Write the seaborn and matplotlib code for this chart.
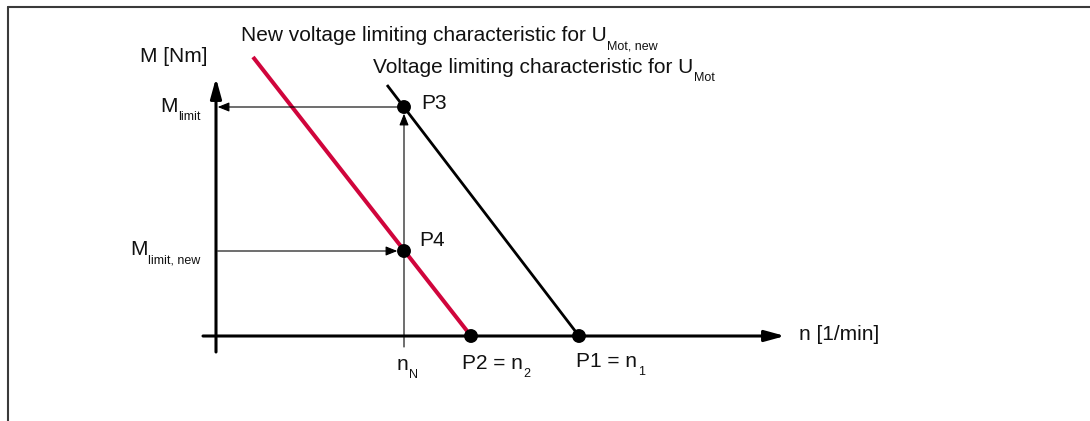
import pandas as pd
import seaborn as sns
import matplotlib.pyplot as plt
from matplotlib.lines import Line2D
from matplotlib.patches import ArrowStyle

# Operating points (arbitrary units, origin at the axis crossing)
n_N = 1.88
n_2 = 2.55
n_1 = 3.63
M_limit = 2.29
M_limit_new = 0.85

# Voltage limiting characteristics
new_char_n = [0.37, n_2]
new_char_M = [2.79, 0.0]
old_char_n = [1.71, n_1]
old_char_M = [2.51, 0.0]

# Marked points
point_names = ['P1', 'P2', 'P3', 'P4']
point_n = [n_1, n_2, n_N, n_N]
point_M = [0.0, 0.0, M_limit, M_limit_new]

# Axis extents
n_axis = [-0.13, 5.69]
M_axis = [-0.16, 2.58]

RED = '#d0053c'

sns.set_theme(style='white')
plt.rcParams['font.family'] = ['Liberation Sans', 'DejaVu Sans']

fig = plt.figure(figsize=(10.9, 4.21), dpi=100)
ax = fig.add_axes([0, 0, 1, 1])
ax.set_xlim(-2.16, 8.74)
ax.set_ylim(-0.85, 3.36)
ax.axis('off')

# frame (top and left only)
fig.add_artist(Line2D([7.5 / 1090, 1.0], [1 - 6.5 / 421] * 2, color='#3a3a3a', lw=1.5))
fig.add_artist(Line2D([7.5 / 1090] * 2, [0.0, 1 - 6.5 / 421], color='#3a3a3a', lw=1.5))

# axes with arrows
big_head = ArrowStyle('-|>', head_length=1.2, head_width=0.33)
ax.annotate('', xy=(n_axis[1], 0), xytext=(n_axis[0], 0),
            arrowprops=dict(arrowstyle=big_head, mutation_scale=10, lw=2.2, color='black',
                            shrinkA=0, shrinkB=0))
ax.annotate('', xy=(0, M_axis[1]), xytext=(0, M_axis[0]),
            arrowprops=dict(arrowstyle=big_head, mutation_scale=10, lw=2.2, color='black',
                            shrinkA=0, shrinkB=0))

# characteristics
old_df = pd.DataFrame({'n': old_char_n, 'M': old_char_M})
new_df = pd.DataFrame({'n': new_char_n, 'M': new_char_M})
sns.lineplot(data=old_df, x='n', y='M', color='black', lw=2.0, sort=False, ax=ax,
             solid_capstyle='butt', zorder=3)
sns.lineplot(data=new_df, x='n', y='M', color=RED, lw=2.9, sort=False, ax=ax,
             solid_capstyle='butt', zorder=3)
ax.axis('off')

# thin guide arrows
small_head = ArrowStyle('-|>', head_length=0.7, head_width=0.28)
ax.annotate('', xy=(n_N, M_limit), xytext=(n_N, -0.11),
            arrowprops=dict(arrowstyle=small_head, mutation_scale=10, lw=0.8, color='black',
                            shrinkA=0, shrinkB=4.8))
ax.annotate('', xy=(0, M_limit), xytext=(n_N, M_limit),
            arrowprops=dict(arrowstyle=small_head, mutation_scale=10, lw=0.8, color='black',
                            shrinkA=0, shrinkB=1.2))
ax.annotate('', xy=(n_N, M_limit_new), xytext=(0, M_limit_new),
            arrowprops=dict(arrowstyle=small_head, mutation_scale=10, lw=0.8, color='black',
                            shrinkA=1.2, shrinkB=4.8))

# points
pts = pd.DataFrame({'n': point_n, 'M': point_M, 'name': point_names})
sns.scatterplot(data=pts, x='n', y='M', color='black', s=100, edgecolor='none', zorder=5, ax=ax)
ax.axis('off')


def label(x, y, main, sub=None, fs=15, sub_fs=9):
    t = ax.text(x, y, main, fontsize=fs, ha='left', va='baseline', color='#111111')
    if sub:
        ax.annotate(sub, xy=(1, 0), xycoords=t, xytext=(0.5, -3.2), textcoords='offset points',
                    fontsize=sub_fs, ha='left', va='baseline', color='#111111')
    return t


label(0.25, 2.95, 'New voltage limiting characteristic for U', 'Mot, new')
label(1.57, 2.63, 'Voltage limiting characteristic for U', 'Mot')
label(-0.76, 2.74, 'M [Nm]')
label(-0.56, 2.24, 'M', 'limit')
label(-0.86, 0.81, 'M', 'limit, new')
label(1.81, -0.34, 'n', 'N')
label(2.46, -0.33, 'P2 = n', '2')
label(3.60, -0.31, 'P1 = n', '1')
label(5.83, -0.04, 'n [1/min]')
label(2.05, 2.27, 'P3')
label(2.03, 0.90, 'P4')

fig.savefig('out.png', dpi=100)
